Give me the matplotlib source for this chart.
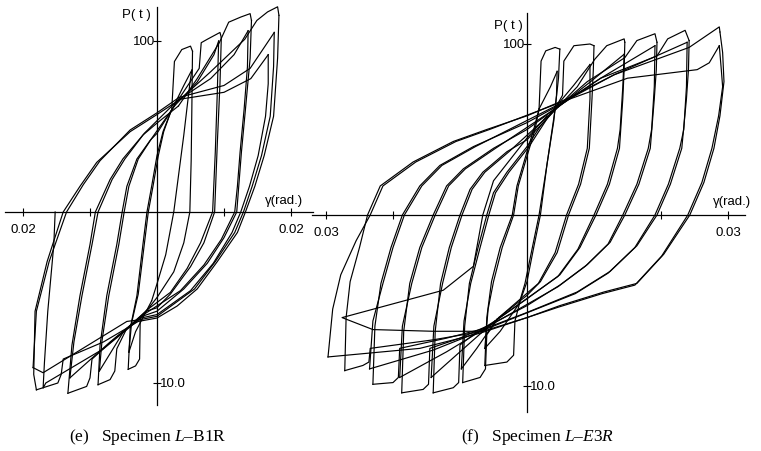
import numpy as np
import matplotlib
matplotlib.use('Agg')
import matplotlib.pyplot as plt

plt.rcParams['font.family'] = ['Liberation Sans', 'DejaVu Sans']
plt.rcParams['mathtext.fontset'] = 'custom'
plt.rcParams['mathtext.rm'] = 'Liberation Serif'
plt.rcParams['mathtext.it'] = 'Liberation Serif:italic'

# shear angle in 1e-3 rad, load P in t ; branches

# ---- (e) specimen L-B1R ----
e_up1 = [(-4.3,-92),(-4.0,-68),(-3.0,-49),(-2.1,-19),(-1.5,0),(-0.8,15),(0.0,33),(0.9,47),(2.2,60)]
e_up2 = [(-8.8,-101),(-8.5,-78),(-7.5,-49),(-6.0,-19),(-5.2,0),(-4.5,15),(-3.0,31),(-1.0,42),(0.0,46),(2.9,64)]
e_up3 = [(-13.3,-106),(-12.7,-78),(-11.5,-49),(-10.0,-19),(-9.2,0),(-7.0,19),(-5.1,31),(-2.1,45),(0.0,52),(3.2,62)]
e_up4 = [(-18.0,-104),(-18.4,-95),(-18.2,-58),(-16.4,-29),(-14.0,0),(-11.5,15),(-9.0,29),(-4.0,47),(0.0,57),(3.5,66)]
e_up1b = [(-4.2,-82),(-3.8,-65),(-2.8,-48),(-1.9,-19),(-1.3,0),(-0.6,15),(0.2,33),(1.0,47),(2.0,58)]
e_up2b = [(-8.6,-93),(-8.2,-75),(-7.2,-49),(-5.7,-19),(-4.9,0),(-4.2,15),(-2.8,31),(-0.8,43),(2.6,62)]
e_up3b = [(-13.0,-97),(-12.4,-76),(-11.2,-49),(-9.7,-19),(-8.8,0),(-6.7,19),(-4.8,31),(-1.9,46),(3.0,65)]
e_up4b = [(-18.5,-91),(-18.0,-58),(-16.1,-29),(-13.5,0),(-11.0,16),(-8.5,30),(-4.0,48),(0.0,58),(3.3,67)]

e_top1 = [(2.2,60),(2.6,88),(3.7,95),(5.0,97),(5.3,94)]
e_top2 = [(2.9,64),(6.3,84),(6.6,99),(7.5,101),(9.4,105),(9.6,102)]
e_top3 = [(3.2,62),(6.0,78),(9.3,99),(10.7,111),(12.5,114),(13.9,116),(14.1,112)]
e_top4 = [(3.5,66),(8.0,82),(13.1,101),(14.9,112),(16.5,117),(18.0,120),(18.2,115)]
e_top1b = [(2.0,58),(4.0,74),(5.2,83)]
e_top2b = [(2.6,62),(6.0,76),(8.5,92),(9.2,100)]
e_top3b = [(3.0,65),(8.0,78),(11.5,92),(13.6,106)]
e_top4b = [(3.3,67),(10.0,74),(13.9,84),(17.5,105)]
e_top4c = [(3.5,66),(10.0,70),(14.0,78),(16.6,92)]

e_dn1 = [(5.3,94),(5.2,60),(5.1,30),(4.9,0),(4.0,-18),(2.5,-35),(0.0,-50),(-1.0,-55)]
e_dn1b = [(5.2,83),(4.9,75),(4.0,45),(2.5,0),(1.3,-25),(0.0,-42),(-0.8,-52)]
e_dn2 = [(9.6,102),(9.4,75),(9.0,40),(8.6,0),(7.0,-18),(5.0,-32),(2.0,-48),(0.0,-56),(-1.6,-58)]
e_dn2b = [(9.2,100),(9.0,70),(8.7,35),(8.3,0),(6.5,-18),(4.5,-33),(2.0,-47),(-1.4,-57)]
e_dn3 = [(14.1,112),(13.9,90),(13.2,60),(12.6,35),(12.2,15),(11.9,0),(10.0,-15),(7.5,-30),(4.0,-45),(0.0,-58),(-2.2,-61)]
e_dn3b = [(13.6,106),(13.5,85),(13.0,60),(12.4,35),(12.0,15),(11.6,0),(9.6,-16),(7.0,-31),(3.5,-46),(-2.0,-60)]
e_dn4 = [(18.2,115),(18.0,90),(17.4,56),(16.0,33),(14.6,15),(13.2,0),(12.0,-12),(9.0,-29),(6.0,-45),(3.0,-55),(0.0,-62),(-2.8,-64)]
e_dn4b = [(17.5,105),(17.4,85),(16.9,56),(15.6,33),(14.2,15),(12.9,0),(11.6,-12),(8.7,-29),(5.6,-45),(0.0,-61),(-2.6,-63)]
e_dn4c = [(16.6,92),(16.6,75),(16.2,56),(15.1,33),(13.8,15),(12.5,0),(11.2,-12),(8.4,-30),(5.0,-46),(0.0,-60),(-2.4,-62)]

e_bot1 = [(-1.0,-55),(-2.5,-62),(-2.6,-86),(-3.2,-90),(-4.3,-92)]
e_bot2 = [(-1.6,-58),(-4.5,-68),(-6.0,-80),(-6.3,-93),(-7.0,-98),(-8.8,-101)]
e_bot3 = [(-2.2,-61),(-6.0,-73),(-9.7,-86),(-10.0,-97),(-10.5,-102),(-13.3,-106)]
e_bot4 = [(-2.8,-64),(-8.0,-76),(-14.0,-86),(-14.3,-95),(-14.8,-100),(-18.0,-104)]
e_bot1b = [(-0.8,-52),(-3.2,-70),(-4.2,-82)]
e_bot2b = [(-1.4,-57),(-5.0,-70),(-8.6,-93)]
e_bot3b = [(-2.0,-60),(-7.0,-76),(-13.0,-97)]
e_bot4b = [(-2.6,-63),(-4.5,-64),(-17.0,-94),(-18.5,-91)]
e_last = [(-2.4,-62),(-8.0,-80),(-16.6,-100),(-17.0,-103),(-16.8,-88),(-16.3,-58),(-15.4,-19),(-15.2,0)]

# ---- (f) specimen L-E3R ----
f_up1 = [(-6.3,-88),(-6.0,-60),(-5.3,-39),(-4.0,-19),(-2.2,0),(-1.5,17),(0.0,37),(1.0,50),(1.8,62)]
f_up2 = [(-9.6,-98),(-9.3,-65),(-8.6,-40),(-7.3,-19),(-6.0,0),(-5.0,13),(-3.0,25),(0.0,40),(2.0,52),(4.0,61)]
f_up3 = [(-14.0,-104),(-13.7,-68),(-12.9,-40),(-11.6,-19),(-10.0,0),(-8.5,15),(-6.6,25),(-3.0,37),(0.0,44),(4.6,63)]
f_up4 = [(-18.7,-104),(-18.4,-68),(-17.5,-40),(-16.0,-19),(-14.0,0),(-12.0,17),(-9.5,27),(-5.0,39),(0.0,50),(5.2,65)]
f_up5 = [(-23.0,-99),(-22.7,-65),(-21.8,-40),(-20.3,-19),(-18.6,0),(-16.0,17),(-13.0,29),(-8.0,40),(0.0,54),(5.6,66)]
f_up6 = [(-27.2,-91),(-27.0,-60),(-26.4,-39),(-25.0,-19),(-23.8,0),(-21.9,17),(-17.0,31),(-11.0,43),(-6.0,50),(0.0,58),(6.0,68)]
f_up1b = [(-6.3,-78),(-5.8,-55),(-5.0,-39),(-3.7,-19),(-2.0,0),(-1.3,17),(0.2,37),(1.2,50),(1.8,62)]
f_up2b = [(-9.8,-90),(-9.4,-62),(-8.4,-40),(-7.0,-19),(-5.7,0),(-4.7,13),(-2.7,25),(0.3,40),(3.6,60)]
f_up3b = [(-14.3,-95),(-13.9,-65),(-12.6,-40),(-11.3,-19),(-9.7,0),(-8.2,15),(-6.3,25),(-2.7,37),(4.3,62)]
f_up4b = [(-19.0,-95),(-18.6,-65),(-17.2,-40),(-15.7,-19),(-13.7,0),(-11.7,17),(-9.2,27),(-4.7,39),(4.9,64)]
f_up5b = [(-23.5,-90),(-23.0,-62),(-21.5,-40),(-20.0,-19),(-18.3,0),(-15.7,17),(-12.7,29),(-7.7,40),(5.4,66)]
f_up6b = [(-29.7,-83),(-29.0,-55),(-27.8,-35),(-25.5,-15),(-23.4,0),(-21.5,17),(-16.6,31),(-10.6,43),(-5.6,50),(5.8,67)]

f_top1 = [(1.8,62),(2.1,90),(2.8,96),(4.2,98),(4.9,97)]
f_top2 = [(4.0,61),(5.3,70),(5.5,90),(7.0,99),(9.4,100),(10.0,99)]
f_top3 = [(4.6,63),(7.5,75),(10.1,91),(11.9,99),(14.5,103),(14.6,101)]
f_top4 = [(5.2,65),(9.0,78),(14.6,92),(16.4,102),(19.1,106),(19.4,101)]
f_top5 = [(5.6,66),(11.0,80),(19.4,93),(21.0,103),(23.6,108),(24.2,102)]
f_top6 = [(6.0,68),(13.0,82),(24.2,98),(28.7,110),(28.8,107)]
f_top1b = [(1.8,62),(3.5,75),(4.5,84)]
f_top2b = [(3.6,60),(7.0,76),(9.4,88)]
f_top3b = [(4.3,62),(9.5,78),(14.5,94)]
f_top4b = [(4.9,64),(11.0,80),(19.1,99)]
f_top5b = [(5.4,66),(13.0,82),(23.9,101)]
f_top6b = [(5.8,67),(15.0,80),(25.4,85),(27.2,89),(28.7,99)]

f_dn1 = [(4.9,97),(4.7,80),(4.2,62),(3.0,30),(2.0,0),(1.0,-19),(0.0,-39),(-1.0,-50)]
f_dn2 = [(10.0,99),(9.9,85),(9.7,68),(9.3,39),(8.0,18),(6.2,0),(4.5,-22),(2.0,-39),(0.0,-47),(-4.2,-60)]
f_dn3 = [(14.6,101),(14.5,85),(14.3,68),(13.8,39),(12.3,18),(10.3,0),(7.9,-19),(4.9,-35),(0.0,-49),(-4.8,-62)]
f_dn4 = [(19.4,101),(19.3,85),(19.0,68),(18.4,39),(16.7,18),(14.6,0),(12.4,-16),(9.0,-29),(4.9,-41),(0.0,-53),(-5.4,-64)]
f_dn5 = [(24.2,102),(24.1,85),(23.8,68),(23.1,39),(21.4,18),(19.4,0),(16.4,-18),(12.4,-33),(7.5,-45),(0.0,-57),(-6.0,-66)]
f_dn6 = [(28.8,107),(29.2,95),(29.4,78),(28.8,58),(27.9,39),(26.4,19),(24.3,0),(20.4,-23),(16.4,-40),(11.5,-45),(4.9,-53),(0.0,-60),(-6.6,-68)]
f_dn1b = [(4.5,84),(4.4,70),(4.0,55),(1.8,0),(0.8,-19),(-0.3,-40),(-1.2,-52)]
f_dn2b = [(9.4,88),(9.4,68),(9.0,39),(7.7,18),(5.9,0),(4.2,-22),(1.7,-40),(-4.5,-61)]
f_dn3b = [(14.5,94),(14.3,75),(13.9,50),(13.5,39),(12.0,18),(10.0,0),(7.6,-20),(4.6,-36),(-5.1,-63)]
f_dn4b = [(19.1,99),(19.0,75),(18.6,50),(18.1,39),(16.4,18),(14.3,0),(12.1,-17),(8.7,-30),(4.6,-42),(-5.7,-65)]
f_dn5b = [(23.9,101),(23.8,75),(23.4,50),(22.8,39),(21.1,18),(19.1,0),(16.1,-19),(12.1,-34),(7.2,-46),(-6.3,-67)]
f_dn6b = [(28.7,99),(29.0,85),(29.2,75),(28.6,58),(27.6,39),(26.1,19),(24.0,0),(20.1,-24),(16.1,-41),(11.2,-46),(4.6,-54),(-6.9,-69)]

f_bot1 = [(-1.0,-50),(-1.8,-62),(-2.0,-82),(-3.0,-86),(-6.3,-88)]
f_bot2 = [(-4.2,-60),(-6.0,-70),(-6.2,-90),(-7.0,-95),(-9.6,-98)]
f_bot3 = [(-4.8,-62),(-8.0,-70),(-10.0,-76),(-10.2,-98),(-11.0,-101),(-14.0,-104)]
f_bot4 = [(-5.4,-64),(-10.0,-72),(-14.5,-78),(-14.7,-99),(-15.5,-102),(-18.7,-104)]
f_bot5 = [(-6.0,-66),(-12.0,-72),(-19.0,-78),(-19.2,-95),(-20.0,-98),(-23.0,-99)]
f_bot6 = [(-6.6,-68),(-14.0,-73),(-23.4,-78),(-23.6,-86),(-24.5,-88),(-27.2,-91)]
f_bot1b = [(-1.2,-52),(-4.0,-68),(-6.3,-78)]
f_bot2b = [(-4.5,-61),(-7.5,-78),(-9.8,-90)]
f_bot3b = [(-5.1,-63),(-10.0,-80),(-14.3,-95)]
f_bot4b = [(-5.7,-65),(-12.0,-80),(-19.0,-95)]
f_bot5b = [(-6.3,-67),(-14.0,-79),(-23.5,-90)]
f_bot6b = [(-6.9,-69),(-16.0,-78),(-29.7,-83)]
f_last = [(-6.6,-68),(-14.0,-68),(-23.0,-67),(-27.6,-60),(-12.5,-44),(-8.0,-30),(-6.6,0),(-5.0,20),(0.0,45),(3.0,58)]

e_branches = [e_up1, e_up2, e_up3, e_up4, e_up1b, e_up2b, e_up3b, e_up4b,
              e_top1, e_top2, e_top3, e_top4, e_top1b, e_top2b, e_top3b, e_top4b, e_top4c,
              e_dn1, e_dn2, e_dn3, e_dn4, e_dn1b, e_dn2b, e_dn3b, e_dn4b, e_dn4c,
              e_bot1, e_bot2, e_bot3, e_bot4, e_bot1b, e_bot2b, e_bot3b, e_bot4b, e_last]
f_branches = [f_up1, f_up2, f_up3, f_up4, f_up5, f_up6,
              f_up1b, f_up2b, f_up3b, f_up4b, f_up5b, f_up6b,
              f_top1, f_top2, f_top3, f_top4, f_top5, f_top6,
              f_top1b, f_top2b, f_top3b, f_top4b, f_top5b, f_top6b,
              f_dn1, f_dn2, f_dn3, f_dn4, f_dn5, f_dn6,
              f_dn1b, f_dn2b, f_dn3b, f_dn4b, f_dn5b, f_dn6b,
              f_bot1, f_bot2, f_bot3, f_bot4, f_bot5, f_bot6,
              f_bot1b, f_bot2b, f_bot3b, f_bot4b, f_bot5b, f_bot6b, f_last]

W, H = 761, 452
fig = plt.figure(figsize=(W/100, H/100), dpi=100)


def make_axes(x0, x1, cx, cy, xb, yb):
    # x0..x1, 0..420 is the pixel box; cx, cy the origin; 67 px = 0.01 rad, 171 px = 100 t
    ax = fig.add_axes([x0/W, (H-420)/H, (x1-x0)/W, 420/H])
    ax.patch.set_alpha(0)
    ax.set_xlim((x0-cx)/6700, (x1-cx)/6700)
    ax.set_ylim((cy-420)*100/171, cy*100/171)
    for s in ['top', 'right']:
        ax.spines[s].set_visible(False)
    ax.spines['left'].set_position(('data', 0))
    ax.spines['bottom'].set_position(('data', 0))
    ax.spines['left'].set_bounds(*yb)
    ax.spines['bottom'].set_bounds(*xb)
    for s in ['left', 'bottom']:
        ax.spines[s].set_linewidth(0.9)
    ax.tick_params(direction='inout', length=6, width=0.8, pad=5, labelsize=9.5)
    return ax


ax_e = make_axes(0, 320, 157, 213, (-0.0227, 0.0233), (-113, 120))
ax_f = make_axes(300, 761, 527, 216, (-0.0321, 0.0325), (-115, 118))

for ax, branches in [(ax_e, e_branches), (ax_f, f_branches)]:
    for br in branches:
        g, p = zip(*br)
        ax.plot(np.array(g)*1e-3, p, color='black', lw=0.85)

ax_e.set_xticks([-0.02, -0.01, 0.01, 0.02], labels=['0.02', '', '', '0.02'])
ax_f.set_xticks([-0.03, -0.02, 0.02, 0.03], labels=['0.03', '', '', '0.03'])

for ax in [ax_e, ax_f]:
    ax.set_yticks([-100, 100], labels=['', ''])
    ax.text(-0.0003, 100, '100', ha='right', va='center', fontsize=9.5)
    ax.text(0.0004, -100, '10.0', ha='left', va='center', fontsize=9.5)

ax_e.text(-0.0010, 116, 'P( t )', ha='right', va='center', fontsize=9.5)
ax_f.text(-0.0006, 111, 'P( t )', ha='right', va='center', fontsize=9.5)
ax_e.text(0.0161, 7, 'γ(rad.)', ha='left', va='center', fontsize=9.5)
ax_f.text(0.0278, 8, 'γ(rad.)', ha='left', va='center', fontsize=9.5)

fig.text(148/W, 1-437/H, r'(e)   Specimen $\mathit{L}$–B1R', ha='center', va='center',
         fontsize=12.5, family='Liberation Serif')
fig.text(538/W, 1-437/H, r'(f)   Specimen $\mathit{L}$–$\mathit{E}$3$\mathit{R}$', ha='center', va='center',
         fontsize=12.5, family='Liberation Serif')

fig.savefig('out.png', dpi=100)
